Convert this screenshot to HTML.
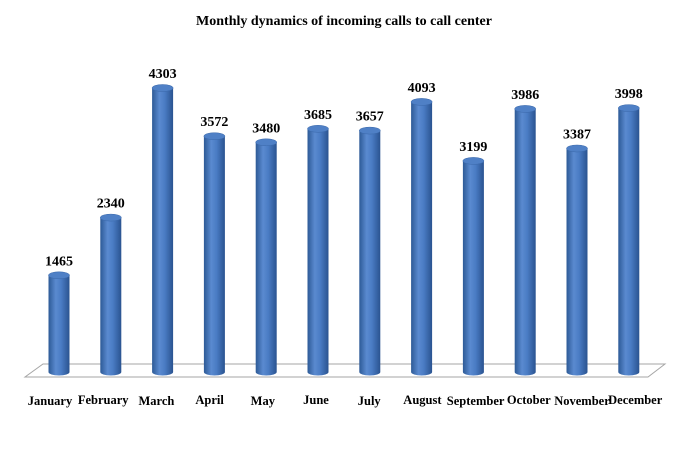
<!DOCTYPE html>
<html><head><style>body{margin:0;background:#fff}</style></head><body>
<svg width="689" height="452" xmlns="http://www.w3.org/2000/svg" font-family="Liberation Serif, serif">
<defs>
<linearGradient id="g" x1="0" x2="1" y1="0" y2="0">
<stop offset="0" stop-color="#2d5a96"/><stop offset="0.35" stop-color="#5a8ad0"/><stop offset="0.6" stop-color="#4a7cc4"/><stop offset="1" stop-color="#2a5390"/>
</linearGradient>
</defs>
<rect width="689" height="452" fill="#fff"/>
<text x="344" y="25" text-anchor="middle" font-size="14" font-weight="bold">Monthly dynamics of incoming calls to call center</text>
<polygon points="43,364 665,364 648,377 25,377" fill="#fff" stroke="#a6a6a6" stroke-width="1"/>
<g font-weight="bold" text-anchor="middle">
<g transform="translate(59,0)"><path d="M-10.5,275.3 L-10.5,372 A10.5,3.5 0 0 0 10.5,372 L10.5,275.3 Z" fill="url(#g)"/><ellipse cy="275.3" rx="10.5" ry="3.5" fill="#4f80c6" stroke="#3a68aa" stroke-width="0.5"/><text y="265.3" font-size="14">1465</text><text x="-9" y="405" font-size="12.5">January</text></g>
<g transform="translate(110.8,0)"><path d="M-10.5,217.6 L-10.5,372 A10.5,3.5 0 0 0 10.5,372 L10.5,217.6 Z" fill="url(#g)"/><ellipse cy="217.6" rx="10.5" ry="3.5" fill="#4f80c6" stroke="#3a68aa" stroke-width="0.5"/><text y="207.6" font-size="14">2340</text><text x="-7.6" y="404" font-size="12.5">February</text></g>
<g transform="translate(162.6,0)"><path d="M-10.5,88 L-10.5,372 A10.5,3.5 0 0 0 10.5,372 L10.5,88 Z" fill="url(#g)"/><ellipse cy="88" rx="10.5" ry="3.5" fill="#4f80c6" stroke="#3a68aa" stroke-width="0.5"/><text y="78" font-size="14">4303</text><text x="-6.2" y="405" font-size="12.5">March</text></g>
<g transform="translate(214.4,0)"><path d="M-10.5,136.2 L-10.5,372 A10.5,3.5 0 0 0 10.5,372 L10.5,136.2 Z" fill="url(#g)"/><ellipse cy="136.2" rx="10.5" ry="3.5" fill="#4f80c6" stroke="#3a68aa" stroke-width="0.5"/><text y="126.2" font-size="14">3572</text><text x="-4.8" y="404" font-size="12.5">April</text></g>
<g transform="translate(266.2,0)"><path d="M-10.5,142.3 L-10.5,372 A10.5,3.5 0 0 0 10.5,372 L10.5,142.3 Z" fill="url(#g)"/><ellipse cy="142.3" rx="10.5" ry="3.5" fill="#4f80c6" stroke="#3a68aa" stroke-width="0.5"/><text y="132.3" font-size="14">3480</text><text x="-3.4" y="405" font-size="12.5">May</text></g>
<g transform="translate(318,0)"><path d="M-10.5,128.8 L-10.5,372 A10.5,3.5 0 0 0 10.5,372 L10.5,128.8 Z" fill="url(#g)"/><ellipse cy="128.8" rx="10.5" ry="3.5" fill="#4f80c6" stroke="#3a68aa" stroke-width="0.5"/><text y="118.8" font-size="14">3685</text><text x="-2" y="404" font-size="12.5">June</text></g>
<g transform="translate(369.8,0)"><path d="M-10.5,130.6 L-10.5,372 A10.5,3.5 0 0 0 10.5,372 L10.5,130.6 Z" fill="url(#g)"/><ellipse cy="130.6" rx="10.5" ry="3.5" fill="#4f80c6" stroke="#3a68aa" stroke-width="0.5"/><text y="120.6" font-size="14">3657</text><text x="-0.6" y="405" font-size="12.5">July</text></g>
<g transform="translate(421.6,0)"><path d="M-10.5,101.9 L-10.5,372 A10.5,3.5 0 0 0 10.5,372 L10.5,101.9 Z" fill="url(#g)"/><ellipse cy="101.9" rx="10.5" ry="3.5" fill="#4f80c6" stroke="#3a68aa" stroke-width="0.5"/><text y="91.9" font-size="14">4093</text><text x="0.8" y="404" font-size="12.5">August</text></g>
<g transform="translate(473.4,0)"><path d="M-10.5,160.9 L-10.5,372 A10.5,3.5 0 0 0 10.5,372 L10.5,160.9 Z" fill="url(#g)"/><ellipse cy="160.9" rx="10.5" ry="3.5" fill="#4f80c6" stroke="#3a68aa" stroke-width="0.5"/><text y="150.9" font-size="14">3199</text><text x="2.2" y="405" font-size="12.5">September</text></g>
<g transform="translate(525.2,0)"><path d="M-10.5,108.9 L-10.5,372 A10.5,3.5 0 0 0 10.5,372 L10.5,108.9 Z" fill="url(#g)"/><ellipse cy="108.9" rx="10.5" ry="3.5" fill="#4f80c6" stroke="#3a68aa" stroke-width="0.5"/><text y="98.9" font-size="14">3986</text><text x="3.6" y="404" font-size="12.5">October</text></g>
<g transform="translate(577,0)"><path d="M-10.5,148.5 L-10.5,372 A10.5,3.5 0 0 0 10.5,372 L10.5,148.5 Z" fill="url(#g)"/><ellipse cy="148.5" rx="10.5" ry="3.5" fill="#4f80c6" stroke="#3a68aa" stroke-width="0.5"/><text y="138.5" font-size="14">3387</text><text x="5" y="405" font-size="12.5">November</text></g>
<g transform="translate(628.8,0)"><path d="M-10.5,108.1 L-10.5,372 A10.5,3.5 0 0 0 10.5,372 L10.5,108.1 Z" fill="url(#g)"/><ellipse cy="108.1" rx="10.5" ry="3.5" fill="#4f80c6" stroke="#3a68aa" stroke-width="0.5"/><text y="98.1" font-size="14">3998</text><text x="6.4" y="404" font-size="12.5">December</text></g>
</g>
</svg>
</body></html>
